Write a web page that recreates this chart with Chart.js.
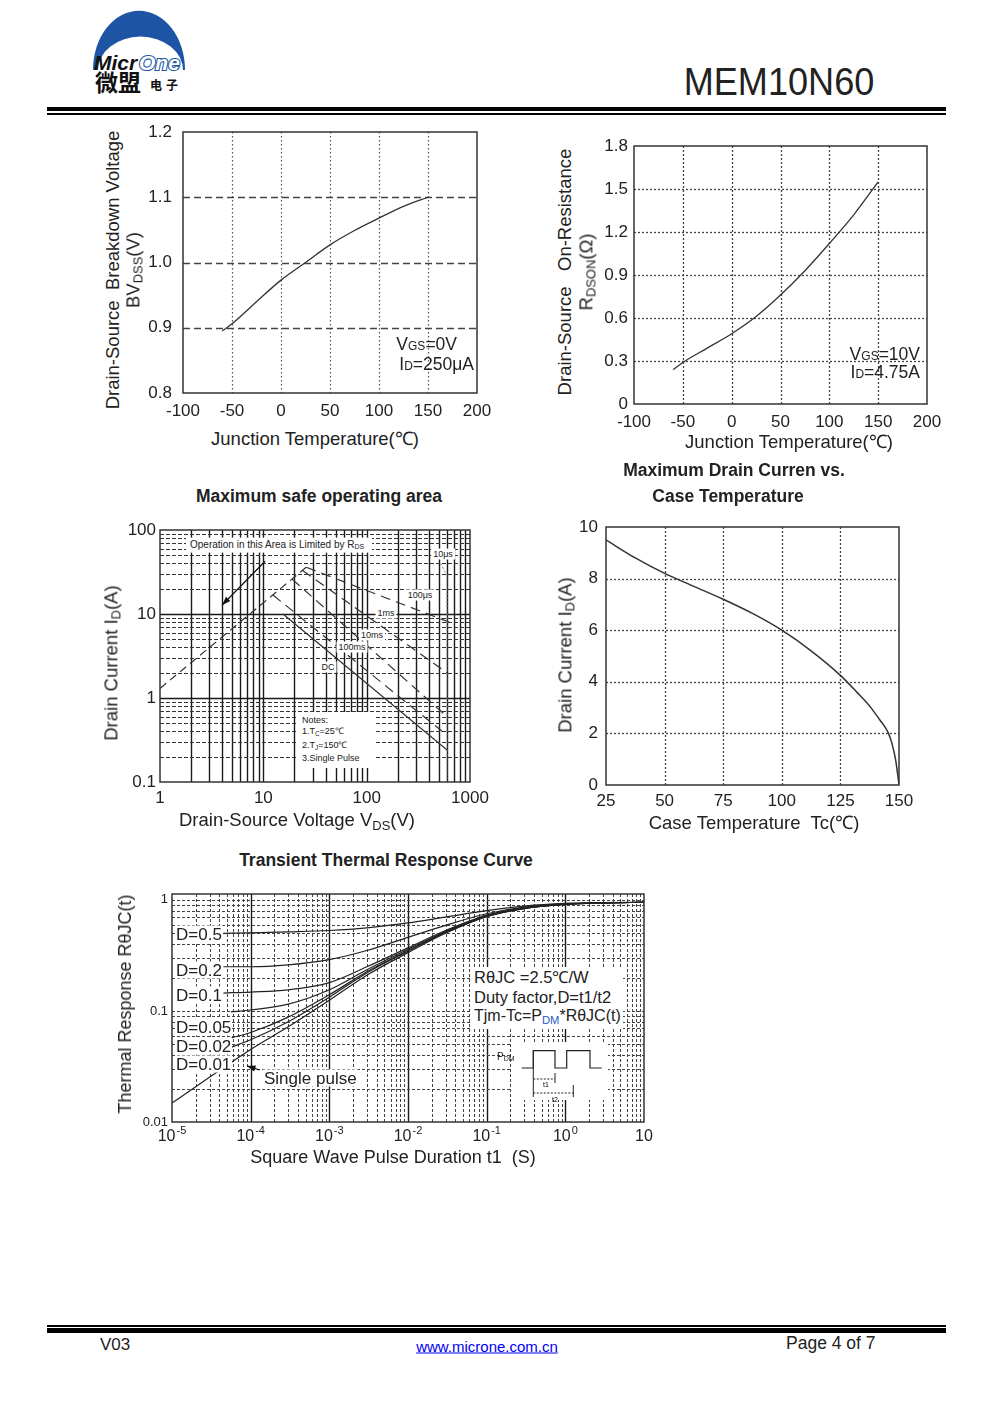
<!DOCTYPE html>
<html>
<head>
<meta charset="utf-8">
<script src="https://cdn.jsdelivr.net/npm/chart.js@4.4.0/dist/chart.umd.min.js"></script>
<style>
  body { margin: 0; background: #fff; }
  #page { position: relative; width: 991px; height: 1403px; overflow: hidden; background: #fff;
          font-family: "Liberation Sans", Arial, sans-serif; color: #222; }
  #page canvas { position: absolute; }
  .abs { position: absolute; white-space: nowrap; line-height: 1; }
  .sb { font-size: 0.7em; vertical-align: -0.25em; }
  .rule { position: absolute; left: 47px; width: 899px; background: #000; }
</style>
</head>
<body>
<div id="page">
  <svg class="abs" style="left:88px;top:6px" width="110" height="92" viewBox="0 0 110 92">
    <path d="M5 64 A45 58 0 0 1 97 64 Z" fill="#1d55a4"/>
    <path d="M10 64 A42 33 0 0 1 95 64 Z" fill="#fff"/>
    <text x="6" y="64" font-family="Liberation Sans, Arial" font-weight="bold" font-style="italic" font-size="21" fill="#111">Micr</text>
    <text x="51" y="64" font-family="Liberation Sans, Arial" font-weight="bold" font-style="italic" font-size="21" fill="#fff" stroke="#1d55a4" stroke-width="2.2" paint-order="stroke">One</text>
    <text x="7" y="85" font-family="Noto Sans CJK SC" font-weight="bold" font-size="23" fill="#111">微盟</text>
    <text x="62" y="84" font-family="Noto Sans CJK SC" font-weight="bold" font-size="12" fill="#111" letter-spacing="4">电子</text>
  </svg>
  <div class="rule" style="top:107px;height:4px"></div>
  <div class="rule" style="top:113px;height:1.5px"></div>
  <div class="rule" style="top:1325px;height:1.5px"></div>
  <div class="rule" style="top:1328px;height:5px"></div>
</div>
<script>
// ---- Breakdown voltage vs junction temperature (normalised)
const bvTemp = [-60, -50, -25, 0, 25, 50, 75, 100, 125, 150];
const bvNorm = [0.895, 0.906, 0.94, 0.973, 1.0, 1.027, 1.049, 1.068, 1.086, 1.10];

// ---- On-resistance vs junction temperature
const rdsTemp = [-60, -50, -25, 0, 25, 50, 75, 100, 125, 150];
const rdsOhm = [0.24, 0.29, 0.39, 0.49, 0.61, 0.76, 0.93, 1.12, 1.32, 1.55];

// ---- Maximum drain current vs case temperature
const idTemp = [25, 37.5, 50, 62.5, 75, 87.5, 100, 112.5, 125, 132, 138, 142, 144, 145.5, 146.7, 147.7, 148.6, 149.3, 149.8, 150];
const idAmp = [9.5, 8.8, 8.2, 7.7, 7.2, 6.65, 6.0, 5.2, 4.25, 3.6, 3.0, 2.5, 2.25, 2.0, 1.7, 1.35, 0.95, 0.5, 0.15, 0.02];

// ---- Safe operating area (V, A)
const soaRdsV = [1, 26];      const soaRdsI = [1.3, 36];
const soa10usV = [520, 600, 600]; const soa10usI = [40, 30, 0.1];
const soa100usV = [26, 680];  const soa100usI = [36, 7.7];
const soa1msV = [24, 600];    const soa1msI = [33, 2.0];
const soa10msV = [19, 600];   const soa10msI = [26, 0.6];
const soa100msV = [12.4, 600]; const soa100msI = [16.8, 0.36];
const soaDcV = [15.5, 600];   const soaDcI = [10, 0.24];
const soaArrow = [[10.4, 42.5], [4.0, 12.8]];

// ---- Transient thermal response (t1 in s, normalised)
const zthT = [1e-4, 3e-4, 1e-3, 3e-3, 1e-2, 3e-2, 1e-1, 3e-1, 1, 3, 10];
const zthD05 = [0.505, 0.515, 0.53, 0.56, 0.62, 0.70, 0.80, 0.88, 0.93, 0.945, 0.95];
const zthD02 = [0.25, 0.26, 0.29, 0.35, 0.46, 0.59, 0.75, 0.86, 0.92, 0.94, 0.95];
const zthD01 = [0.148, 0.155, 0.18, 0.25, 0.37, 0.53, 0.73, 0.85, 0.92, 0.94, 0.95];
const zthD005 = [0.102, 0.115, 0.155, 0.235, 0.36, 0.52, 0.72, 0.845, 0.915, 0.94, 0.95];
const zthD002 = [0.064, 0.088, 0.14, 0.225, 0.35, 0.515, 0.715, 0.84, 0.915, 0.94, 0.95];
const zthD001 = [0.055, 0.08, 0.133, 0.22, 0.345, 0.51, 0.71, 0.84, 0.91, 0.94, 0.95];
const zthSingle = [0.045, 0.072, 0.125, 0.21, 0.335, 0.50, 0.705, 0.835, 0.91, 0.94, 0.95];
const zthStartT = [4.5e-5, 4.5e-5, 4.5e-5, 5.6e-5, 5.6e-5, 5.6e-5, 1e-5];
const zthStartY = [0.50, 0.25, 0.145, 0.098, 0.057, 0.047, 0.0148];
const zthArrow = [[1.3e-4, 0.0294], [9e-5, 0.032]];

const page = document.getElementById('page');
Chart.defaults.font.family = '"Liberation Sans", Arial, sans-serif';
Chart.defaults.color = '#222';

const framePlugin = {
  id: 'frame',
  afterDraw(c) {
    const a = c.chartArea, g = c.ctx;
    g.save();
    g.strokeStyle = '#333';
    g.lineWidth = 1.5;
    g.strokeRect(a.left, a.top, a.right - a.left, a.bottom - a.top);
    g.restore();
  }
};

function gridPlug(xs, ys) {
  return {
    id: 'gridlines',
    beforeDatasetsDraw(c) {
      const g = c.ctx, a = c.chartArea;
      g.save();
      g.beginPath();
      g.rect(a.left, a.top, a.right - a.left, a.bottom - a.top);
      g.clip();
      [['x', xs], ['y', ys]].forEach(([ax, fn]) => {
        const s = c.scales[ax];
        s.ticks.forEach(t => {
          const st = fn(t, s);
          if (!st) return;
          const p = Math.round(s.getPixelForValue(t.value)) + 0.5;
          g.strokeStyle = st.c;
          g.lineWidth = st.w;
          g.setLineDash(st.d || []);
          g.beginPath();
          if (ax === 'x') { g.moveTo(p, a.top); g.lineTo(p, a.bottom); }
          else { g.moveTo(a.left, p); g.lineTo(a.right, p); }
          g.stroke();
        });
      });
      g.restore();
    }
  };
}

function arrowPlug(pts) {
  return {
    id: 'arrow',
    afterDatasetsDraw(c) {
      const g = c.ctx, sx = c.scales.x, sy = c.scales.y;
      const x0 = sx.getPixelForValue(pts[0][0]), y0 = sy.getPixelForValue(pts[0][1]);
      const x1 = sx.getPixelForValue(pts[1][0]), y1 = sy.getPixelForValue(pts[1][1]);
      const ang = Math.atan2(y1 - y0, x1 - x0);
      g.save();
      g.strokeStyle = '#111'; g.fillStyle = '#111'; g.lineWidth = 1.2;
      g.beginPath(); g.moveTo(x0, y0); g.lineTo(x1, y1); g.stroke();
      g.beginPath();
      g.moveTo(x1, y1);
      g.lineTo(x1 - 9 * Math.cos(ang - 0.35), y1 - 9 * Math.sin(ang - 0.35));
      g.lineTo(x1 - 9 * Math.cos(ang + 0.35), y1 - 9 * Math.sin(ang + 0.35));
      g.closePath(); g.fill();
      g.restore();
    }
  };
}

// power-of-ten labels with a raised exponent, centred on the log axis ticks
const expLabelPlugin = {
  id: 'expLabels',
  afterDraw(c) {
    const g = c.ctx, s = c.scales.x, yTop = c.chartArea.bottom + 7;
    g.save();
    g.fillStyle = '#222';
    g.textBaseline = 'top';
    g.textAlign = 'left';
    s.ticks.forEach(t => {
      const e = isPow10(t.value);
      if (e === null) return;
      const base = '10', ex = e === 1 ? '' : (e < 0 ? '-' + (-e) : String(e));
      g.font = '16px "Liberation Sans", Arial, sans-serif';
      const wb = g.measureText(base).width;
      g.font = '11px "Liberation Sans", Arial, sans-serif';
      const we = ex ? g.measureText(ex).width + 1 : 0;
      const x = s.getPixelForValue(t.value) - (wb + we) / 2;
      g.font = '16px "Liberation Sans", Arial, sans-serif';
      g.fillText(base, x, yTop);
      if (ex) {
        g.font = '11px "Liberation Sans", Arial, sans-serif';
        g.fillText(ex, x + wb + 1, yTop - 4);
      }
    });
    g.restore();
  }
};

function logTicks(min, max) {
  const out = [];
  for (let e = Math.floor(Math.log10(min)); e <= Math.ceil(Math.log10(max)); e++) {
    for (let d = 1; d <= 9; d++) {
      const v = +(d * Math.pow(10, e)).toPrecision(4);
      if (v >= min * 0.9999 && v <= max * 1.0001) out.push({ value: v, major: d === 1 });
    }
  }
  return out;
}
function isPow10(v) {
  const e = Math.round(Math.log10(v));
  return Math.abs(v - Math.pow(10, e)) / v < 1e-6 ? e : null;
}

function mk(r, p, cfg) {
  const cv = document.createElement('canvas');
  const w = r.r - r.l + p.l + p.r, h = r.b - r.t + p.t + p.b;
  cv.width = w; cv.height = h;
  cv.style.cssText = `left:${r.l - p.l}px;top:${r.t - p.t}px;width:${w}px;height:${h}px`;
  page.appendChild(cv);
  const o = cfg.options;
  o.responsive = false;
  o.animation = false;
  o.layout = { padding: { top: p.t, right: p.r, left: 0, bottom: 0 } };
  o.scales.x.afterFit = s => { s.height = p.b; s.paddingLeft = 0; s.paddingRight = 0; };
  o.scales.y.afterFit = s => { s.width = p.l; s.paddingTop = 0; s.paddingBottom = 0; };
  o.scales.x.grid = { display: false, drawTicks: false };
  o.scales.y.grid = { display: false, drawTicks: false };
  o.scales.x.border = { display: false };
  o.scales.y.border = { display: false };
  o.plugins = { legend: { display: false }, tooltip: { enabled: false } };
  o.elements = { point: { radius: 0 } };
  cfg.plugins = (cfg.plugins || []).concat([framePlugin]);
  return new Chart(cv, cfg);
}

function xy(xs, ys) { return xs.map((x, i) => ({ x, y: ys[i] })); }
function curve(data, extra) {
  return Object.assign({ data, borderColor: '#333', borderWidth: 1.3, fill: false,
    tension: 0.4, cubicInterpolationMode: 'monotone', pointRadius: 0 }, extra || {});
}
const inner = (t, s) => t.value > s.min + 1e-9 && t.value < s.max - 1e-9;

// ---------- Chart 1: BVDSS
mk({ l: 183, t: 132, r: 477, b: 393 }, { l: 50, t: 12, r: 30, b: 34 }, {
  type: 'line',
  data: { datasets: [curve(xy(bvTemp, bvNorm))] },
  options: {
    scales: {
      x: { type: 'linear', min: -100, max: 200,
        ticks: { stepSize: 50, padding: 8, maxRotation: 0, font: { size: 17 } } },
      y: { type: 'linear', min: 0.8, max: 1.2,
        ticks: { stepSize: 0.1, padding: 11, font: { size: 17 }, callback: v => v.toFixed(1) } }
    }
  },
  plugins: [gridPlug(
    (t, s) => inner(t, s) ? { c: '#555', w: 1.2, d: [1.5, 2.5] } : null,
    (t, s) => inner(t, s) ? { c: '#444', w: 1.5, d: [7, 4] } : null)]
});

// ---------- Chart 2: RDSON
mk({ l: 634, t: 146, r: 927, b: 404 }, { l: 50, t: 12, r: 30, b: 34 }, {
  type: 'line',
  data: { datasets: [curve(xy(rdsTemp, rdsOhm))] },
  options: {
    scales: {
      x: { type: 'linear', min: -100, max: 200,
        ticks: { stepSize: 50, padding: 8, maxRotation: 0, font: { size: 17 } } },
      y: { type: 'linear', min: 0, max: 1.8,
        ticks: { stepSize: 0.3, padding: 6, font: { size: 17 }, callback: v => v === 0 ? '0' : v.toFixed(1) } }
    }
  },
  plugins: [gridPlug(
    (t, s) => inner(t, s) ? { c: '#444', w: 1.3, d: [2, 2] } : null,
    (t, s) => inner(t, s) ? { c: '#444', w: 1.3, d: [2, 2] } : null)]
});

// ---------- Chart 3: SOA
const soaSets = [
  curve(xy(soaRdsV, soaRdsI), { borderDash: [8, 5], tension: 0, borderWidth: 1.2 }),
  curve(xy(soa10usV, soa10usI), { borderDash: [2, 2], tension: 0, borderColor: '#777', borderWidth: 1 }),
  curve(xy(soa100usV, soa100usI), { borderDash: [10, 6], tension: 0, borderWidth: 1.2 }),
  curve(xy(soa1msV, soa1msI), { borderDash: [10, 6], tension: 0, borderWidth: 1.2 }),
  curve(xy(soa10msV, soa10msI), { borderDash: [10, 6], tension: 0, borderWidth: 1.2 }),
  curve(xy(soa100msV, soa100msI), { borderDash: [10, 6], tension: 0, borderWidth: 1.2 }),
  curve(xy(soaDcV, soaDcI), { tension: 0, borderWidth: 1.2 })
];
const soaXLab = { 0: '1', 1: '10', 2: '100', 3: '1000' };
const soaYLab = { '-1': '0.1', 0: '1', 1: '10', 2: '100' };
mk({ l: 160, t: 530, r: 470, b: 782 }, { l: 40, t: 12, r: 30, b: 30 }, {
  type: 'line',
  data: { datasets: soaSets },
  options: {
    scales: {
      x: { type: 'logarithmic', min: 1, max: 1000,
        afterBuildTicks: s => { s.ticks = logTicks(1, 1000); },
        ticks: { autoSkip: false, maxRotation: 0, padding: 6, font: { size: 17 },
          callback: v => { const e = isPow10(v); return e === null ? '' : soaXLab[e]; } } },
      y: { type: 'logarithmic', min: 0.1, max: 100,
        afterBuildTicks: s => { s.ticks = logTicks(0.1, 100); },
        ticks: { autoSkip: false, padding: 4, font: { size: 17 },
          callback: v => { const e = isPow10(v); return e === null ? '' : soaYLab[e]; } } }
    }
  },
  plugins: [gridPlug(
    (t, s) => inner(t, s) ? { c: '#1a1a1a', w: 1.4 } : null,
    (t, s) => inner(t, s) ? (t.major ? { c: '#1a1a1a', w: 1.4 } : { c: '#333', w: 1, d: [4, 2] }) : null),
    arrowPlug(soaArrow)]
});

// ---------- Chart 4: ID vs TC
mk({ l: 606, t: 527, r: 899, b: 785 }, { l: 40, t: 12, r: 30, b: 30 }, {
  type: 'line',
  data: { datasets: [curve(xy(idTemp, idAmp), { borderWidth: 1.5 })] },
  options: {
    scales: {
      x: { type: 'linear', min: 25, max: 150,
        ticks: { stepSize: 25, padding: 6, maxRotation: 0, font: { size: 17 } } },
      y: { type: 'linear', min: 0, max: 10,
        ticks: { stepSize: 2, padding: 8, font: { size: 17 } } }
    }
  },
  plugins: [gridPlug(
    (t, s) => inner(t, s) ? { c: '#444', w: 1.3, d: [2, 2] } : null,
    (t, s) => inner(t, s) ? { c: '#444', w: 1.3, d: [2, 2] } : null)]
});

// ---------- Chart 5: transient thermal response
const zthCurves = [zthD05, zthD02, zthD01, zthD005, zthD002, zthD001, zthSingle];
const zthSets = zthCurves.map((ys, i) =>
  curve(xy([zthStartT[i]].concat(zthT), [zthStartY[i]].concat(ys)), { borderColor: '#222', borderWidth: 1.2 }));
const zthYLab = { '-2': '0.01', '-1': '0.1', 0: '1' };
mk({ l: 172, t: 894, r: 644, b: 1122 }, { l: 40, t: 10, r: 30, b: 30 }, {
  type: 'line',
  data: { datasets: zthSets },
  options: {
    scales: {
      x: { type: 'logarithmic', min: 1e-5, max: 10,
        afterBuildTicks: s => { s.ticks = logTicks(1e-5, 10); },
        ticks: { autoSkip: false, maxRotation: 0, padding: 7, font: { size: 16 }, callback: () => '' } },
      y: { type: 'logarithmic', min: 0.01, max: 1.13,
        afterBuildTicks: s => { s.ticks = logTicks(0.01, 1.13); },
        ticks: { autoSkip: false, padding: 4, font: { size: 13 },
          callback: v => { const e = isPow10(v); return e === null ? '' : zthYLab[e]; } } }
    }
  },
  plugins: [gridPlug(
    (t, s) => inner(t, s) ? (t.major ? { c: '#1a1a1a', w: 1.4 } : { c: '#444', w: 1, d: [3, 2] }) : null,
    (t, s) => inner(t, s) ? { c: '#444', w: 1, d: [3, 2] } : null),
    arrowPlug(zthArrow), expLabelPlugin]
});

// ---------- text
function put(html, x, y, o = {}) {
  const d = document.createElement('div');
  d.className = 'abs';
  d.innerHTML = html;
  const tx = o.align === 'l' ? '0' : o.align === 'r' ? '-100%' : '-50%';
  d.style.left = x + 'px';
  d.style.top = y + 'px';
  d.style.fontSize = (o.size || 17) + 'px';
  if (o.bold) d.style.fontWeight = 'bold';
  if (o.color) d.style.color = o.color;
  if (o.bg) { d.style.background = '#fff'; d.style.padding = o.pad || '1px 2px'; }
  d.style.transform = `translate(${tx},-50%)`;
  if (o.rot) d.style.transform = 'translate(-50%,-50%) rotate(-90deg)';
  page.appendChild(d);
  return d;
}
function box(l, t, w, h) {
  const d = document.createElement('div');
  d.className = 'abs';
  d.style.cssText = `left:${l}px;top:${t}px;width:${w}px;height:${h}px;background:#fff`;
  page.appendChild(d);
}
const sub = s => `<span class="sb">${s}</span>`;
const T = 18.5; // axis title size
const H = 17.5; // bold section title size

put('MEM10N60', 779, 82, { size: 38 }).style.transform = 'translate(-50%,-50%) scaleX(0.95)';

// chart 1
put('Drain-Source&nbsp; Breakdown Voltage', 113, 270, { rot: true, size: T });
put('BV' + sub('DSS') + '(V)', 135, 270, { rot: true, size: T });
put('Junction Temperature(℃)', 315, 439, { size: T });
put('V<span style="font-size:12px">GS</span>=0V', 457, 345, { align: 'r', size: 17.5 });
put('I<span style="font-size:12px">D</span>=250μA', 474, 365, { align: 'r', size: 17.5 });

// chart 2
put('Drain-Source&nbsp;&nbsp; On-Resistance', 565, 272, { rot: true, size: T });
put('R' + sub('DSON') + '(Ω)', 588, 272, { rot: true, size: T });
put('Junction Temperature(℃)', 789, 442, { size: T });
put('V<span style="font-size:12px">GS</span>=10V', 920, 355, { align: 'r', size: 17.5 });
put('I<span style="font-size:12px">D</span>=4.75A', 920, 373, { align: 'r', size: 17.5 });

// section titles
put('Maximum Drain Curren vs.', 734, 471, { bold: true, size: H });
put('Case Temperature', 728, 497, { bold: true, size: H });
put('Maximum safe operating area', 319, 497, { bold: true, size: H });
put('Transient Thermal Response Curve', 386, 861, { bold: true, size: H });

// chart 3
put('Drain Current I' + sub('D') + '(A)', 113, 663, { rot: true, size: T });
put('Drain-Source Voltage V' + sub('DS') + '(V)', 297, 822, { size: T });
put('Operation in this Area is Limited by R' + sub('DS'), 186, 545, { align: 'l', size: 10, bg: true, pad: '2px 8px 2px 4px' });
put('10μs', 443, 554, { size: 9, bg: true });
put('100μs', 420, 595, { size: 9, bg: true });
put('1ms', 386, 613, { size: 9, bg: true });
put('10ms', 372, 635, { size: 9, bg: true });
put('100ms', 352, 647, { size: 9, bg: true });
put('DC', 328, 667, { size: 9, bg: true });
box(296, 712, 80, 56);
put('Notes:', 302, 720, { align: 'l', size: 9 });
put('1.T' + sub('C') + '=25℃', 302, 732, { align: 'l', size: 9 });
put('2.T' + sub('J') + '=150℃', 302, 746, { align: 'l', size: 9 });
put('3.Single Pulse', 302, 758, { align: 'l', size: 9 });

// chart 4
put('Drain Current I' + sub('D') + '(A)', 567, 655, { rot: true, size: T });
put('Case Temperature&nbsp; Tc(℃)', 754, 823, { size: T });

// chart 5
put('Thermal Response RθJC(t)', 125, 1004, { rot: true, size: 18 });
put('Square Wave Pulse Duration t1&nbsp; (S)', 393, 1157, { size: 18 });
[['D=0.5', 934], ['D=0.2', 970], ['D=0.1', 995], ['D=0.05', 1027], ['D=0.02', 1046], ['D=0.01', 1064]]
  .forEach(([s, y]) => put(s, 175, y, { align: 'l', bg: true, pad: '0 1px' }));
put('Single pulse', 263, 1078, { align: 'l', bg: true, pad: '0 1px' });
box(470, 967, 153, 62);
put('RθJC =2.5℃/W', 474, 977, { align: 'l', size: 16.5 });
put('Duty factor,D=t1/t2', 474, 997, { align: 'l', size: 16.5 });
put('Tjm-Tc=P' + '<span class="sb" style="color:#2a5ac8">DM</span>' + '*RθJC(t)', 474, 1017, { align: 'l', size: 16 });
box(512, 1042, 96, 58);
put('P' + sub('DM'), 497, 1057, { align: 'l', size: 10 });
const wave = document.createElementNS('http://www.w3.org/2000/svg', 'svg');
wave.setAttribute('class', 'abs');
wave.setAttribute('width', '95'); wave.setAttribute('height', '58');
wave.style.left = '515px'; wave.style.top = '1045px';
wave.innerHTML =
  '<polyline points="6.7,23 18.3,23 18.3,5.7 40,5.7 40,23 51.7,23 51.7,5.7 75,5.7 75,23 86.7,23" fill="none" stroke="#222" stroke-width="1.2"/>' +
  '<line x1="18.3" y1="5.7" x2="18.3" y2="52" stroke="#222" stroke-width="1"/>' +
  '<line x1="40" y1="28" x2="40" y2="38" stroke="#222" stroke-width="1"/>' +
  '<line x1="58.3" y1="40" x2="58.3" y2="52" stroke="#222" stroke-width="1"/>' +
  '<line x1="18.3" y1="34" x2="40" y2="34" stroke="#222" stroke-width="1" stroke-dasharray="2,1.5"/>' +
  '<line x1="18.3" y1="48" x2="58.3" y2="48" stroke="#222" stroke-width="1" stroke-dasharray="2,1.5"/>' +
  '<text x="28" y="42" font-size="7" font-family="Liberation Sans">t1</text>' +
  '<text x="37" y="57" font-size="7" font-family="Liberation Sans">t2</text>';
page.appendChild(wave);

// footer
put('V03', 100, 1344, { align: 'l', size: 17 });
put('<span style="text-decoration:underline">www.microne.com.cn</span>', 487, 1346, { size: 15, color: '#0000ee' });
put('Page 4 of 7', 786, 1344, { align: 'l', size: 17.5 });
</script>
</body>
</html>
